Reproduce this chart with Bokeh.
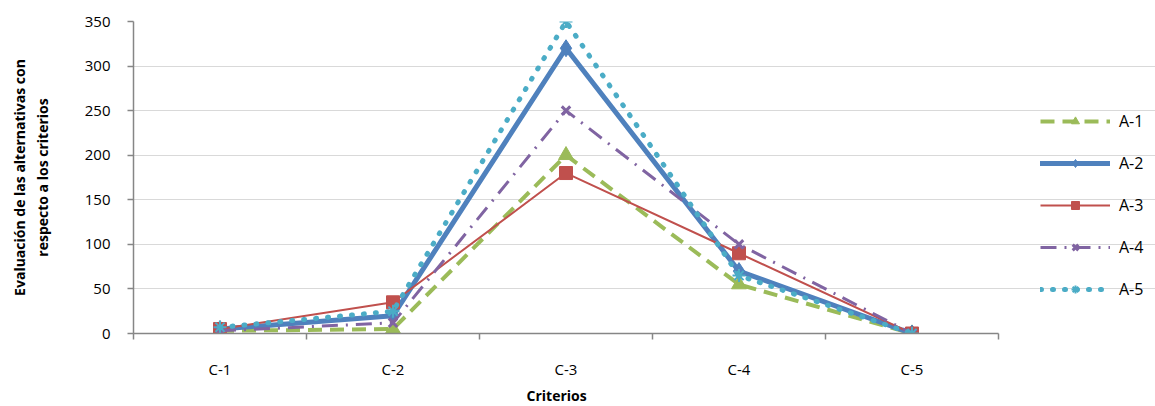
from bokeh.plotting import figure
from bokeh.models import (LinearAxis, FixedTicker, Range1d, Legend, LegendItem, Title)
from bokeh.embed import file_html
from bokeh.resources import INLINE

# Evaluation of each alternative against each criterion
criterios = ["C-1", "C-2", "C-3", "C-4", "C-5"]
a1 = [3, 5, 200, 55, 0]
a2 = [5, 20, 320, 70, 0]
a3 = [5, 35, 180, 90, 0]
a4 = [3, 12, 250, 100, 0]
a5 = [7, 25, 350, 65, 0]
y_ticks = [0, 50, 100, 150, 200, 250, 300, 350]

FONT = "Open Sans"
AXIS_GREY = "#868686"
N = len(criterios)
SLOT_PX = 173                 # width of one category slot
FRAME_W, FRAME_H = 1022, 312  # frame runs to the right edge; legend lives there

# category centres sit in the middle of unit-wide slots
xs = [i + 0.5 for i in range(N)]

p = figure(frame_width=FRAME_W, frame_height=FRAME_H,
           output_backend="svg", toolbar_location=None,
           x_range=Range1d(0, FRAME_W / SLOT_PX), y_range=Range1d(0, 350),
           x_axis_type=None,
           min_border_left=133, min_border_right=0,
           min_border_top=21, min_border_bottom=2)
p.outline_line_color = None
p.background_fill_color = "white"
p.border_fill_color = "white"

# y axis
yax = p.yaxis[0]
yax.ticker = FixedTicker(ticks=y_ticks)
yax.axis_line_color = AXIS_GREY
yax.axis_line_width = 1.5
yax.major_tick_line_color = AXIS_GREY
yax.major_tick_line_width = 1.5
yax.major_tick_out = 6
yax.major_tick_in = 0
yax.minor_tick_line_color = None
yax.major_label_text_font = FONT
yax.major_label_text_font_size = "15px"
yax.major_label_text_color = "black"
yax.major_label_standoff = 17
yax.axis_label = "Evaluación de las alternativas con\nrespecto a los criterios"
yax.axis_label_text_font = FONT
yax.axis_label_text_font_style = "bold"
yax.axis_label_text_font_size = "14px"
yax.axis_label_text_color = "black"
yax.axis_label_standoff = 30

p.ygrid.grid_line_color = "#D9D9D9"
p.ygrid.grid_line_width = 1
p.ygrid.ticker = FixedTicker(ticks=y_ticks)
p.ygrid.bounds = (0, N)
p.xgrid.grid_line_color = None

# x axis line with tick marks on the category boundaries
bounds = list(range(N + 1))
tick_axis = LinearAxis(ticker=FixedTicker(ticks=bounds), bounds=(0, N),
                       major_label_overrides={b: "" for b in bounds},
                       major_label_text_font_size="1px",
                       major_label_standoff=0,
                       axis_line_color=AXIS_GREY, axis_line_width=1.5,
                       major_tick_line_color=AXIS_GREY, major_tick_line_width=1.5,
                       major_tick_out=6, major_tick_in=0,
                       minor_tick_line_color=None)
p.add_layout(tick_axis, "below")

# category labels centred in their slots
label_axis = LinearAxis(ticker=FixedTicker(ticks=xs), bounds=(0, N),
                        major_label_overrides={x: c for x, c in zip(xs, criterios)},
                        axis_line_color=None, major_tick_line_color=None,
                        minor_tick_line_color=None,
                        major_label_text_font=FONT,
                        major_label_text_font_size="15px",
                        major_label_text_color="black",
                        major_label_standoff=13)
p.add_layout(label_axis, "below")

# x axis title, centred under the category slots
x_title = Title(text="Criterios", align="left", offset=393, standoff=4,
                text_font=FONT, text_font_style="bold", text_font_size="14px",
                text_color="black")
p.add_layout(x_title, "below")

# series
GREEN, BLUE, RED, PURPLE, CYAN = "#9BBB59", "#4F81BD", "#C0504D", "#8064A2", "#4BACC6"

l1 = p.line(xs, a1, line_color=GREEN, line_width=4, line_dash="14 8")
m1 = p.scatter(xs, a1, marker="triangle", size=15, fill_color=GREEN, line_color=GREEN)

l2 = p.line(xs, a2, line_color=BLUE, line_width=5, line_join="round", line_cap="round")
m2 = p.scatter(xs, a2, marker="diamond", size=17, fill_color=BLUE, line_color=BLUE)

l3 = p.line(xs, a3, line_color=RED, line_width=2)
m3 = p.scatter(xs, a3, marker="square", size=13, fill_color=RED, line_color=RED)

l4 = p.line(xs, a4, line_color=PURPLE, line_width=3, line_dash="16 8 2 8")
m4 = p.scatter(xs, a4, marker="x", size=12, line_color=PURPLE, line_width=3)

l5 = p.line(xs, a5, line_color=CYAN, line_width=5, line_dash="1 11", line_cap="round")
m5 = p.scatter(xs, a5, marker="asterisk", size=13, line_color=CYAN, line_width=2)

# legend to the right of the last category slot
legend = Legend(items=[
    LegendItem(label="A-1", renderers=[l1, m1]),
    LegendItem(label="A-2", renderers=[l2, m2]),
    LegendItem(label="A-3", renderers=[l3, m3]),
    LegendItem(label="A-4", renderers=[l4, m4]),
    LegendItem(label="A-5", renderers=[l5, m5]),
], location=(N * SLOT_PX + 42, 33), orientation="vertical",
    glyph_width=70, glyph_height=20, label_height=20, spacing=20,
    label_standoff=9, padding=0, margin=0,
    border_line_color=None, background_fill_alpha=0,
    label_text_font=FONT, label_text_font_size="16px", label_text_color="black")
p.add_layout(legend, "center")

open("out.html", "w").write(file_html(p, INLINE))
